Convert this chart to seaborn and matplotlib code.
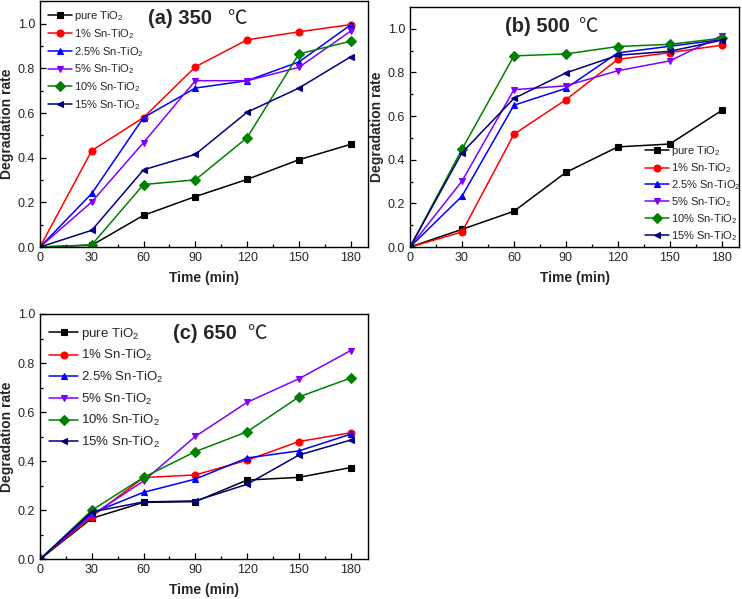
import matplotlib
matplotlib.use("Agg")
import matplotlib.pyplot as plt
import seaborn as sns
import pandas as pd
import numpy as np

time_min = [0, 30, 60, 90, 120, 150, 180]
samples = ["pure TiO2", "1% Sn-TiO2", "2.5% Sn-TiO2", "5% Sn-TiO2", "10% Sn-TiO2", "15% Sn-TiO2"]

# (a) 350 C
a_pure = [0, 0.008, 0.142, 0.226, 0.303, 0.391, 0.460]
a_sn1 = [0, 0.432, 0.580, 0.807, 0.928, 0.964, 0.996]
a_sn25 = [0, 0.240, 0.580, 0.712, 0.745, 0.829, 0.995]
a_sn5 = [0, 0.202, 0.468, 0.745, 0.745, 0.805, 0.967]
a_sn10 = [0, 0.010, 0.280, 0.301, 0.490, 0.865, 0.922]
a_sn15 = [0, 0.075, 0.346, 0.415, 0.604, 0.712, 0.852]

# (b) 500 C
b_pure = [0, 0.081, 0.164, 0.342, 0.459, 0.472, 0.626]
b_sn1 = [0, 0.069, 0.517, 0.675, 0.860, 0.891, 0.925]
b_sn25 = [0, 0.233, 0.650, 0.727, 0.890, 0.920, 0.951]
b_sn5 = [0, 0.302, 0.721, 0.739, 0.808, 0.853, 0.969]
b_sn10 = [0, 0.448, 0.876, 0.885, 0.919, 0.929, 0.957]
b_sn15 = [0, 0.432, 0.681, 0.798, 0.879, 0.897, 0.948]

# (c) 650 C
c_pure = [0, 0.167, 0.232, 0.235, 0.323, 0.334, 0.374]
c_sn1 = [0, 0.174, 0.333, 0.344, 0.404, 0.480, 0.516]
c_sn25 = [0, 0.188, 0.273, 0.327, 0.413, 0.442, 0.510]
c_sn5 = [0, 0.180, 0.319, 0.501, 0.640, 0.736, 0.851]
c_sn10 = [0, 0.200, 0.334, 0.439, 0.520, 0.662, 0.739]
c_sn15 = [0, 0.193, 0.234, 0.238, 0.306, 0.425, 0.486]

colors = ["#000000", "#FF0000", "#0000FF", "#8000FF", "#008000", "#000080"]
markers = ["s", "o", "^", "v", "D", "<"]
labels = [r"pure TiO$_\mathregular{2}$", r"1% Sn-TiO$_\mathregular{2}$", r"2.5% Sn-TiO$_\mathregular{2}$",
          r"5% Sn-TiO$_\mathregular{2}$", r"10% Sn-TiO$_\mathregular{2}$", r"15% Sn-TiO$_\mathregular{2}$"]

sns.set_theme(style="ticks")
plt.rcParams['font.family'] = ['Liberation Sans', 'DejaVu Sans']
plt.rcParams['mathtext.fontset'] = 'custom'
plt.rcParams['mathtext.rm'] = 'Liberation Sans'


def make_df(series):
    rows = []
    for name, vals in zip(samples, series):
        for t, v in zip(time_min, vals):
            rows.append({"time": t, "rate": v, "sample": name})
    return pd.DataFrame(rows)


def draw_panel(ax, series, ymax, title, tpos, cpos, legend_kw, leg_fs):
    df = make_df(series)
    sns.lineplot(data=df, x="time", y="rate", hue="sample", style="sample",
                 palette=dict(zip(samples, colors)), markers=dict(zip(samples, markers)),
                 dashes=False, ax=ax, linewidth=1.1, markersize=5, markeredgewidth=0.8)
    for ln in ax.lines:
        ln.set_markeredgecolor(ln.get_color())
    ax.set_xlim(0, 190)
    ax.set_ylim(0, ymax)
    ax.set_xticks(time_min)
    ax.set_xticks(np.arange(15, 190, 30), minor=True)
    ax.set_yticks(np.arange(0, 1.01, 0.2))
    ax.set_yticks(np.arange(0.1, ymax, 0.2), minor=True)
    ax.yaxis.set_major_formatter(matplotlib.ticker.FormatStrFormatter("%.1f"))
    ax.tick_params(which="both", direction="in", labelsize=9, width=0.9, color="black")
    ax.tick_params(which="major", length=4)
    ax.tick_params(which="minor", length=2.5)
    for s in ax.spines.values():
        s.set_linewidth(1.0)
        s.set_color("black")
    ax.set_xlabel("Time (min)", fontsize=10, fontweight="bold", labelpad=5)
    ax.set_ylabel("Degradation rate", fontsize=10, fontweight="bold", labelpad=3)
    ax.text(tpos[0], tpos[1], title, transform=ax.transAxes, fontsize=14.5,
            fontweight="bold", ha="left", va="center")
    ax.text(cpos[0], cpos[1], "\u2103", transform=ax.transAxes, fontsize=14,
            family=["Noto Sans CJK SC", "DejaVu Sans"], ha="left", va="center")
    handles, _ = ax.get_legend_handles_labels()
    for h in handles:
        h.set_markeredgecolor(h.get_color())
        h.set_markersize(5)
        h.set_markeredgewidth(0.8)
    ax.legend(handles, labels, frameon=False, fontsize=leg_fs, handlelength=2.2,
              handletextpad=0.2, **legend_kw)


fig = plt.figure(figsize=(7.42, 5.99), dpi=100)
ax_a = fig.add_axes([0.0539, 0.5876, 0.442, 0.410])
ax_b = fig.add_axes([0.5526, 0.5876, 0.4434, 0.4007])
ax_c = fig.add_axes([0.0539, 0.0663, 0.442, 0.4095])

draw_panel(ax_a, [a_pure, a_sn1, a_sn25, a_sn5, a_sn10, a_sn15], 1.1, "(a) 350",
           (0.329, 0.93), (0.57, 0.93),
           dict(loc="upper left", labelspacing=0.35, borderaxespad=0.3), 8)
draw_panel(ax_b, [b_pure, b_sn1, b_sn25, b_sn5, b_sn10, b_sn15], 1.1, "(b) 500",
           (0.289, 0.917), (0.51, 0.917),
           dict(loc="lower right", bbox_to_anchor=(1.03, -0.015), labelspacing=0.28, borderaxespad=0.3), 8)
draw_panel(ax_c, [c_pure, c_sn1, c_sn25, c_sn5, c_sn10, c_sn15], 1.0, "(c) 650",
           (0.405, 0.922), (0.63, 0.922),
           dict(loc="upper left", bbox_to_anchor=(0.0, 0.99), labelspacing=0.5, borderaxespad=0.3), 9.5)

fig.savefig("out.png", dpi=100)
